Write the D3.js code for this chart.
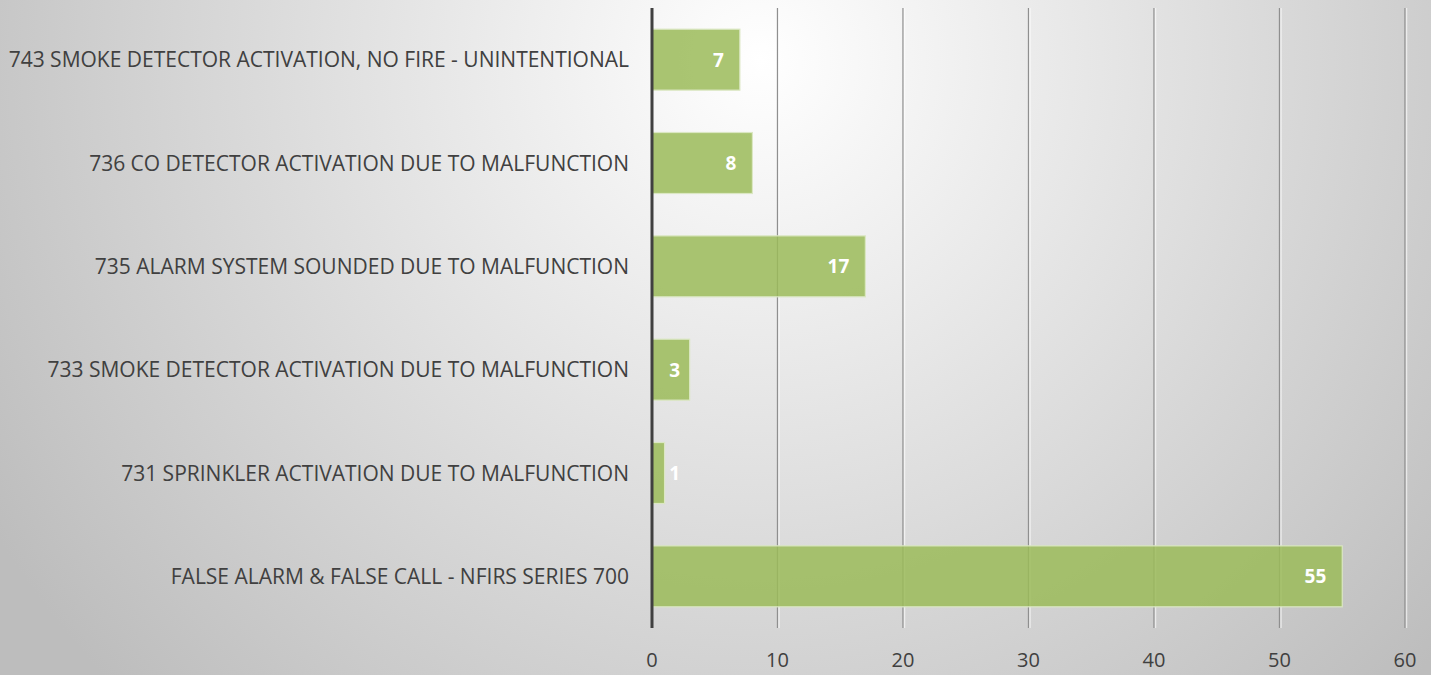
<!DOCTYPE html>
<html>
<head>
<meta charset="utf-8">
<script src="https://cdn.jsdelivr.net/npm/d3@7"></script>
<style>
  body { margin: 0; }
  svg { display: block; }
</style>
</head>
<body>
<div id="chart"></div>
<script>
// data
var categories = [
  "743 SMOKE DETECTOR ACTIVATION, NO FIRE - UNINTENTIONAL",
  "736 CO DETECTOR ACTIVATION DUE TO MALFUNCTION",
  "735 ALARM SYSTEM SOUNDED DUE TO MALFUNCTION",
  "733 SMOKE DETECTOR ACTIVATION DUE TO MALFUNCTION",
  "731 SPRINKLER ACTIVATION DUE TO MALFUNCTION",
  "FALSE ALARM & FALSE CALL - NFIRS SERIES 700"
];
var values = [7, 8, 17, 3, 1, 55];
var tickValues = [0, 10, 20, 30, 40, 50, 60];

var W = 1431, H = 675;
var margin = {top: 8, right: 26, bottom: 47, left: 652},
    width = W - margin.left - margin.right,
    height = H - margin.top - margin.bottom;

var svg = d3.select("#chart")
  .append("svg")
    .attr("width", W)
    .attr("height", H);

// background
var defs = svg.append("defs");
var grad = defs.append("radialGradient")
    .attr("id", "bg")
    .attr("gradientUnits", "userSpaceOnUse")
    .attr("cx", 760).attr("cy", 60).attr("r", 900);
grad.append("stop").attr("offset", "0%").attr("stop-color", "#ffffff");
grad.append("stop").attr("offset", "100%").attr("stop-color", "#bdbdbd");

svg.append("rect")
    .attr("width", W).attr("height", H)
    .attr("fill", "url(#bg)");

var chart = svg.append("g")
    .attr("transform", "translate(" + margin.left + "," + margin.top + ")");

var x = d3.scaleLinear()
  .domain([0, 60])
  .range([0, width]);

var y = d3.scaleBand()
  .domain(categories)
  .range([0, height])
  .paddingInner(0.41)
  .paddingOuter(0.205);

// gridlines
chart.selectAll(".grid")
  .data(tickValues.slice(1))
  .enter().append("line")
    .attr("x1", function(d) { return x(d); })
    .attr("x2", function(d) { return x(d); })
    .attr("y1", 0)
    .attr("y2", height)
    .attr("stroke", "#8f8f8f")
    .attr("stroke-width", 1.3);

chart.selectAll(".grid2")
  .data(tickValues.slice(1))
  .enter().append("line")
    .attr("x1", function(d) { return x(d) + 1.5; })
    .attr("x2", function(d) { return x(d) + 1.5; })
    .attr("y1", 0)
    .attr("y2", height)
    .attr("stroke", "#ffffff")
    .attr("stroke-opacity", 0.6)
    .attr("stroke-width", 1.5);

// bars
chart.selectAll(".bar")
  .data(values)
  .enter().append("rect")
    .attr("x", x(0))
    .attr("y", function(d, i) { return y(categories[i]); })
    .attr("width", function(d) { return x(d) - x(0); })
    .attr("height", y.bandwidth())
    .attr("fill", "#9bbb59")
    .attr("fill-opacity", 0.85)
    .attr("stroke", "#dbe7c3")
    .attr("stroke-width", 1.2);

// value labels
chart.selectAll(".val")
  .data(values)
  .enter().append("text")
    .attr("x", function(d) { return Math.max(x(d) - 16, x(0) + 28); })
    .attr("y", function(d, i) { return y(categories[i]) + y.bandwidth() / 2; })
    .attr("dy", "0.36em")
    .attr("text-anchor", "end")
    .attr("fill", "#ffffff")
    .style("font-family", "'Open Sans', sans-serif")
    .style("font-weight", "bold")
    .style("font-size", "19px")
    .text(function(d) { return d; });

// zero axis line
chart.append("line")
    .attr("x1", x(0)).attr("x2", x(0))
    .attr("y1", 0).attr("y2", height)
    .attr("stroke", "#404040")
    .attr("stroke-width", 3);

// category labels
chart.selectAll(".cat")
  .data(categories)
  .enter().append("text")
    .attr("x", -23)
    .attr("y", function(d) { return y(d) + y.bandwidth() / 2; })
    .attr("dy", "0.36em")
    .attr("text-anchor", "end")
    .attr("fill", "#404040")
    .style("font-family", "'Open Sans', sans-serif")
    .style("font-size", "21px")
    .text(function(d) { return d; });

// x axis tick labels
chart.selectAll(".tick")
  .data(tickValues)
  .enter().append("text")
    .attr("x", function(d) { return x(d); })
    .attr("y", height + 32)
    .attr("dy", "0.36em")
    .attr("text-anchor", "middle")
    .attr("fill", "#404040")
    .style("font-family", "'Open Sans', sans-serif")
    .style("font-size", "20px")
    .text(function(d) { return d; });
</script>
</body>
</html>
